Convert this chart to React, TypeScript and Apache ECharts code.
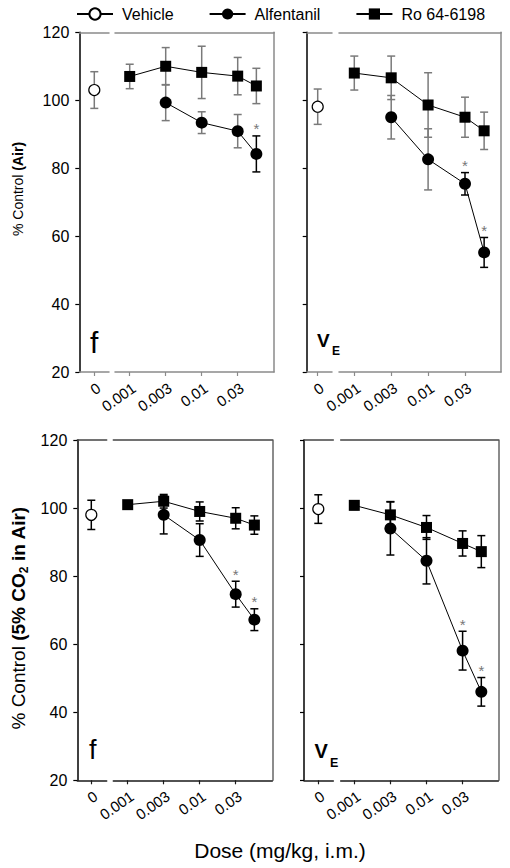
import React, { useEffect, useRef } from 'react';
import * as echarts from 'echarts';

// ---------- data ----------
const doseAxisTicks = [0.001, 0.003, 0.01, 0.03, 0.1];
const doseTickLabels = ['0.001', '0.003', '0.01', '0.03'];
const vehicleTickLabels = ['0'];
const doses = [0.001, 0.003, 0.01, 0.03, 0.056];
const seriesNames = ['Vehicle', 'Alfentanil', 'Ro 64-6198'];
const yMin = 20;
const yMax = 120;
const yStep = 20;

// f, Air
const fAirVehicle = [103.0];
const fAirVehicleSem = [5.4];
const fAirAlf = [null, 99.3, 93.4, 90.9, 84.2];
const fAirAlfSem = [null, 5.3, 3.2, 4.9, 5.3];
const fAirAlfSig = [0, 0, 0, 0, 1];
const fAirRo = [107.0, 110.0, 108.2, 107.1, 104.2];
const fAirRoSem = [3.6, 5.5, 7.7, 5.5, 5.2];

// VE, Air
const veAirVehicle = [98.1];
const veAirVehicleSem = [5.2];
const veAirAlf = [null, 95.0, 82.6, 75.4, 55.2];
const veAirAlfSem = [null, 6.4, 9.0, 3.3, 4.4];
const veAirAlfSig = [0, 0, 0, 1, 1];
const veAirRo = [108.0, 106.6, 98.6, 95.0, 91.0];
const veAirRoSem = [5.0, 6.4, 9.5, 5.9, 5.5];

// f, 5% CO2 in Air
const fCo2Vehicle = [98.0];
const fCo2VehicleSem = [4.3];
const fCo2Alf = [null, 98.0, 90.6, 74.7, 67.2];
const fCo2AlfSem = [null, 5.6, 4.8, 3.8, 3.2];
const fCo2AlfSig = [0, 0, 0, 1, 1];
const fCo2Ro = [101.0, 102.0, 99.0, 97.0, 95.0];
const fCo2RoSem = [1.0, 2.0, 2.8, 3.1, 2.7];

// VE, 5% CO2 in Air
const veCo2Vehicle = [99.7];
const veCo2VehicleSem = [4.2];
const veCo2Alf = [null, 94.0, 84.5, 58.1, 46.0];
const veCo2AlfSem = [null, 7.8, 6.8, 5.7, 4.2];
const veCo2AlfSig = [0, 0, 0, 1, 1];
const veCo2Ro = [100.8, 98.0, 94.3, 89.6, 87.2];
const veCo2RoSem = [1.2, 3.9, 3.5, 3.7, 4.7];

// ---------- layout ----------
const FONT = "'Liberation Sans', Arial, sans-serif";

const panels = [
  {
    vehicle: fAirVehicle, vehicleSem: fAirVehicleSem, alf: fAirAlf, alfSem: fAirAlfSem, alfSig: fAirAlfSig, ro: fAirRo, roSem: fAirRoSem,
    axisX: 79.3, vehX: 94.3, vehRight: 109, doseLeft: 115, tick1: 129.7, sp: 36, right: 274, top: 32.3, bottom: 372,
    showYLabels: true, bottomLine: '#8a8a8a', topLine: '#8a8a8a', rightLine: '#8a8a8a', err: '#7a7a7a',
  },
  {
    vehicle: veAirVehicle, vehicleSem: veAirVehicleSem, alf: veAirAlf, alfSem: veAirAlfSem, alfSig: veAirAlfSig, ro: veAirRo, roSem: veAirRoSem,
    axisX: 306.7, vehX: 317.7, vehRight: 332, doseLeft: 339, tick1: 354.3, sp: 36.9, right: 501, top: 32.3, bottom: 372,
    showYLabels: false, bottomLine: '#8a8a8a', topLine: '#8a8a8a', rightLine: '#8a8a8a', err: '#7a7a7a',
  },
  {
    vehicle: fCo2Vehicle, vehicleSem: fCo2VehicleSem, alf: fCo2Alf, alfSem: fCo2AlfSem, alfSig: fCo2AlfSig, ro: fCo2Ro, roSem: fCo2RoSem,
    axisX: 77.3, vehX: 91.3, vehRight: 106.7, doseLeft: 113.3, tick1: 127.7, sp: 36, right: 272.3, top: 440, bottom: 780.3,
    showYLabels: true, bottomLine: '#1a1a1a', topLine: '#444', rightLine: '#666', err: '#000',
  },
  {
    vehicle: veCo2Vehicle, vehicleSem: veCo2VehicleSem, alf: veCo2Alf, alfSem: veCo2AlfSem, alfSig: veCo2AlfSig, ro: veCo2Ro, roSem: veCo2RoSem,
    axisX: 304, vehX: 318.3, vehRight: 333.3, doseLeft: 340.7, tick1: 354.3, sp: 36.1, right: 498.3, top: 440, bottom: 780.3,
    showYLabels: false, bottomLine: '#1a1a1a', topLine: '#444', rightLine: '#666', err: '#000',
  },
];

function doseToPos(d: number): number {
  for (let i = 0; i < doseAxisTicks.length - 1; i++) {
    const a = doseAxisTicks[i];
    const b = doseAxisTicks[i + 1];
    if (d >= a && d <= b) {
      return i + 1 + (Math.log10(d) - Math.log10(a)) / (Math.log10(b) - Math.log10(a));
    }
  }
  return doseAxisTicks.length;
}

function errorSeries(xAxisIndex: number, yAxisIndex: number, data: number[][], errColor: string) {
  return {
    type: 'custom',
    xAxisIndex,
    yAxisIndex,
    z: 1,
    silent: true,
    dimensions: ['x', 'm', 's', 'sig'],
    encode: { x: 0, y: 1 },
    data,
    renderItem: (params: any, api: any) => {
      const x = api.value(0);
      const m = api.value(1);
      const s = api.value(2);
      const sig = api.value(3);
      const top = api.coord([x, m + s]);
      const bot = api.coord([x, m - s]);
      const color = sig ? '#000' : errColor;
      const hw = 4;
      const st = { stroke: color, lineWidth: 1.5 };
      return {
        type: 'group',
        children: [
          { type: 'line', shape: { x1: top[0], y1: top[1], x2: bot[0], y2: bot[1] }, style: st },
          { type: 'line', shape: { x1: top[0] - hw, y1: top[1], x2: top[0] + hw, y2: top[1] }, style: st },
          { type: 'line', shape: { x1: bot[0] - hw, y1: bot[1], x2: bot[0] + hw, y2: bot[1] }, style: st },
        ],
      };
    },
  };
}

function sigSeries(xAxisIndex: number, yAxisIndex: number, data: number[][]) {
  return {
    type: 'custom',
    xAxisIndex,
    yAxisIndex,
    z: 3,
    silent: true,
    encode: { x: 0, y: 1 },
    data,
    renderItem: (params: any, api: any) => {
      const p = api.coord([api.value(0), api.value(1)]);
      return {
        type: 'text',
        x: p[0],
        y: p[1] - 7,
        style: { text: '*', fill: '#777', fontSize: 15, fontFamily: FONT, align: 'center', verticalAlign: 'middle' },
      };
    },
  };
}

function buildOption() {
  const grids: any[] = [];
  const xAxes: any[] = [];
  const yAxes: any[] = [];
  const series: any[] = [];

  panels.forEach((p) => {
    const h = p.bottom - p.top;
    const gV = grids.length;
    grids.push({ left: p.axisX, top: p.top, width: p.vehRight - p.axisX, height: h });
    const gD = grids.length;
    grids.push({ left: p.doseLeft, top: p.top, width: p.right - p.doseLeft, height: h });

    const s = p.vehX - p.axisX;
    const vMin = -1;
    const vMax = (p.vehRight - p.vehX) / s;
    const dMin = 1 - (p.tick1 - p.doseLeft) / p.sp;
    const dMax = 1 + (p.right - p.tick1) / p.sp;

    const labelStyle = {
      rotate: 35, align: 'right', verticalAlign: 'top', margin: 8, fontSize: 15, color: '#000', fontFamily: FONT,
    };

    const xV = xAxes.length;
    xAxes.push({
      type: 'value', gridIndex: gV, position: 'bottom', min: vMin, max: vMax,
      axisLine: { show: true, onZero: false, lineStyle: { color: p.bottomLine, width: 1.5 } },
      axisTick: { show: true, length: 4, customValues: [0], lineStyle: { color: p.bottomLine, width: 1.2 } },
      axisLabel: { ...labelStyle, customValues: [0], formatter: () => vehicleTickLabels[0] },
      splitLine: { show: false },
    });
    xAxes.push({
      type: 'value', gridIndex: gV, position: 'top', min: vMin, max: vMax,
      axisLine: { show: true, onZero: false, lineStyle: { color: p.topLine, width: 1.5 } },
      axisTick: { show: false }, axisLabel: { show: false }, splitLine: { show: false },
    });
    const xD = xAxes.length;
    const tickPos = doseTickLabels.map((_, i) => doseToPos(doseAxisTicks[i]));
    xAxes.push({
      type: 'value', gridIndex: gD, position: 'bottom', min: dMin, max: dMax,
      axisLine: { show: true, onZero: false, lineStyle: { color: p.bottomLine, width: 1.5 } },
      axisTick: { show: true, length: 4, customValues: tickPos, lineStyle: { color: p.bottomLine, width: 1.2 } },
      axisLabel: {
        ...labelStyle, customValues: tickPos,
        formatter: (v: number) => doseTickLabels[Math.round(v) - 1] ?? '',
      },
      splitLine: { show: false },
    });
    xAxes.push({
      type: 'value', gridIndex: gD, position: 'top', min: dMin, max: dMax,
      axisLine: { show: true, onZero: false, lineStyle: { color: p.topLine, width: 1.5 } },
      axisTick: { show: false }, axisLabel: { show: false }, splitLine: { show: false },
    });

    const yV = yAxes.length;
    yAxes.push({
      type: 'value', gridIndex: gV, position: 'left', min: yMin, max: yMax, interval: yStep,
      axisLine: { show: true, onZero: false, lineStyle: { color: '#000', width: 1.5 } },
      axisTick: { show: true, length: 4, lineStyle: { color: '#000', width: 1.2 } },
      axisLabel: { show: p.showYLabels, fontSize: 16, color: '#000', margin: 10, fontFamily: FONT },
      splitLine: { show: false },
    });
    const yD = yAxes.length;
    yAxes.push({
      type: 'value', gridIndex: gD, position: 'right', min: yMin, max: yMax, interval: yStep,
      axisLine: { show: true, onZero: false, lineStyle: { color: p.rightLine, width: 1.5 } },
      axisTick: { show: false }, axisLabel: { show: false }, splitLine: { show: false },
    });

    // vehicle
    series.push(errorSeries(xV, yV, [[0, p.vehicle[0], p.vehicleSem[0], 0]], p.err));
    series.push({
      type: 'line', name: seriesNames[0], xAxisIndex: xV, yAxisIndex: yV, z: 2,
      data: [[0, p.vehicle[0]]],
      symbol: 'circle', symbolSize: 11,
      itemStyle: { color: '#fff', borderColor: '#000', borderWidth: 1.2 },
      lineStyle: { color: '#000', width: 1 },
    });

    // dose groups
    const errData: number[][] = [];
    const sigData: number[][] = [];
    const alfData: number[][] = [];
    const roData: number[][] = [];
    doses.forEach((d, j) => {
      const x = doseToPos(d);
      if (p.ro[j] != null) {
        roData.push([x, p.ro[j] as number]);
        errData.push([x, p.ro[j] as number, p.roSem[j] as number, 0]);
      }
      if (p.alf[j] != null) {
        alfData.push([x, p.alf[j] as number]);
        errData.push([x, p.alf[j] as number, p.alfSem[j] as number, p.alfSig[j]]);
        if (p.alfSig[j]) sigData.push([x, (p.alf[j] as number) + (p.alfSem[j] as number)]);
      }
    });
    series.push(errorSeries(xD, yD, errData, p.err));
    series.push({
      type: 'line', name: seriesNames[1], xAxisIndex: xD, yAxisIndex: yD, z: 2,
      data: alfData, symbol: 'circle', symbolSize: 12,
      itemStyle: { color: '#000' }, lineStyle: { color: '#000', width: 1 },
    });
    series.push({
      type: 'line', name: seriesNames[2], xAxisIndex: xD, yAxisIndex: yD, z: 2,
      data: roData, symbol: 'rect', symbolSize: 11,
      itemStyle: { color: '#000' }, lineStyle: { color: '#000', width: 1 },
    });
    series.push(sigSeries(xD, yD, sigData));
  });

  const graphics: any[] = [
    {
      type: 'text', x: 18, y: 189, rotation: Math.PI / 2,
      style: {
        text: '{r|% Control }{b|(Air)}',
        align: 'center', verticalAlign: 'middle', fill: '#000', fontFamily: FONT,
        rich: {
          r: { fontSize: 14, fontFamily: FONT, fill: '#000' },
          b: { fontSize: 14, fontWeight: 'bold', fontFamily: FONT, fill: '#000' },
        },
      },
    },
    {
      type: 'text', x: 18, y: 618, rotation: Math.PI / 2,
      style: {
        text: '{r|% Control }{b|(5% CO}{s|2}{b| in Air)}',
        align: 'center', verticalAlign: 'middle', fill: '#000', fontFamily: FONT,
        rich: {
          r: { fontSize: 19, fontFamily: FONT, fill: '#000', lineHeight: 24, verticalAlign: 'middle' },
          b: { fontSize: 19, fontWeight: 'bold', fontFamily: FONT, fill: '#000', lineHeight: 24, verticalAlign: 'middle' },
          s: { fontSize: 12, fontWeight: 'bold', fontFamily: FONT, fill: '#000', lineHeight: 13, verticalAlign: 'bottom' },
        },
      },
    },
    {
      type: 'text', x: 280, y: 850,
      style: { text: 'Dose (mg/kg, i.m.)', fontSize: 21, fontFamily: FONT, fill: '#000', align: 'center', verticalAlign: 'middle' },
    },
    { type: 'text', x: 90, y: 342, style: { text: 'f', fontSize: 30, fontFamily: FONT, fill: '#000', align: 'left', verticalAlign: 'middle' } },
    { type: 'text', x: 89, y: 750, style: { text: 'f', fontSize: 27, fontFamily: FONT, fill: '#000', align: 'left', verticalAlign: 'middle' } },
    { type: 'text', x: 317, y: 340, style: { text: 'V', fontSize: 19, fontWeight: 'bold', fontFamily: FONT, fill: '#000', align: 'left', verticalAlign: 'middle' } },
    { type: 'text', x: 332, y: 350.5, style: { text: 'E', fontSize: 12, fontWeight: 'bold', fontFamily: FONT, fill: '#000', align: 'left', verticalAlign: 'middle' } },
    { type: 'text', x: 314.5, y: 751, style: { text: 'V', fontSize: 20, fontWeight: 'bold', fontFamily: FONT, fill: '#000', align: 'left', verticalAlign: 'middle' } },
    { type: 'text', x: 330, y: 762.5, style: { text: 'E', fontSize: 12.5, fontWeight: 'bold', fontFamily: FONT, fill: '#000', align: 'left', verticalAlign: 'middle' } },
  ];

  return {
    animation: false,
    backgroundColor: '#fff',
    textStyle: { fontFamily: FONT },
    legend: {
      data: seriesNames,
      left: 76, top: 6, padding: 0,
      itemWidth: 36, itemHeight: 14, itemGap: 35,
      selectedMode: false,
      textStyle: { fontSize: 16, color: '#000', fontFamily: FONT, padding: [0, 0, 0, 4] },
    },
    grid: grids,
    xAxis: xAxes,
    yAxis: yAxes,
    series,
    graphic: graphics,
  };
}

export default function App() {
  const ref = useRef<HTMLDivElement>(null);
  useEffect(() => {
    if (!ref.current) return;
    const chart = echarts.init(ref.current, null, { renderer: 'svg' });
    chart.setOption(buildOption() as any);
    return () => chart.dispose();
  }, []);
  return (
    <div
      ref={ref}
      style={{ position: 'absolute', left: 0, top: 0, width: 510, height: 868, background: '#fff' }}
    />
  );
}
